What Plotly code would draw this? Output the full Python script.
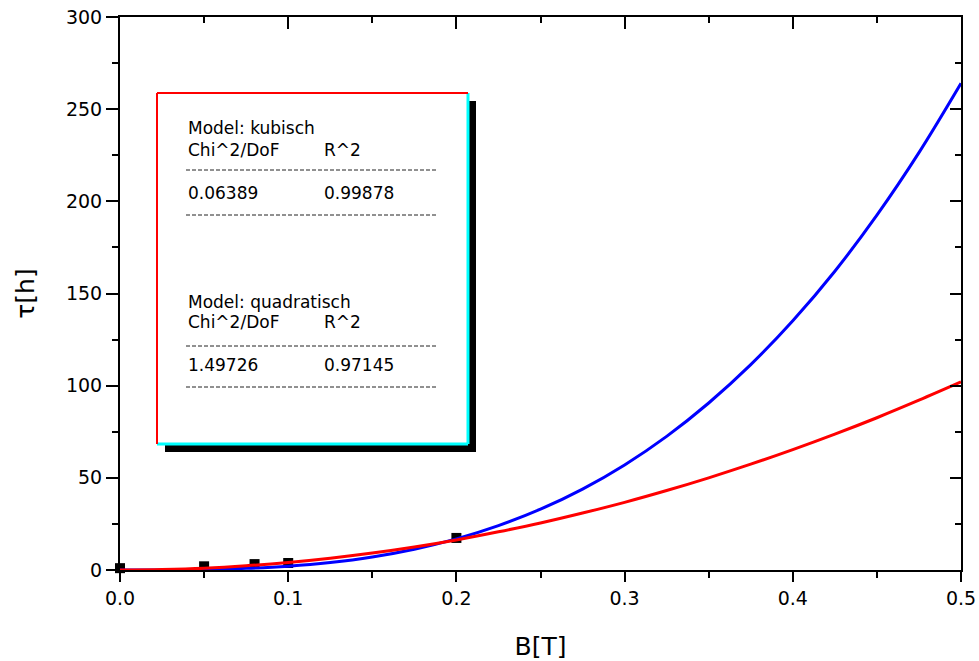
import plotly.graph_objects as go

# ---- data ----
meas_B = [0.0, 0.05, 0.08, 0.10, 0.20]
meas_tau = [1.0, 2.0, 3.2, 3.8, 17.4]

fit_B = [0.0, 0.025, 0.05, 0.075, 0.1, 0.125, 0.15, 0.175, 0.2, 0.225, 0.25,
         0.275, 0.3, 0.325, 0.35, 0.375, 0.4, 0.425, 0.45, 0.475, 0.5]
cubic_tau = [0.0, 0.0, 0.3, 0.9, 2.1, 4.1, 7.1, 11.3, 16.9, 24.1, 33.0,
             43.9, 57.0, 72.5, 90.6, 111.4, 135.2, 162.1, 192.5, 226.4, 264.0]
quad_tau = [0.0, 0.3, 1.0, 2.3, 4.1, 6.4, 9.2, 12.5, 16.3, 20.7, 25.5,
            30.9, 36.7, 43.1, 50.0, 57.4, 65.3, 73.7, 82.6, 92.1, 102.0]

x_ticks = [0.0, 0.1, 0.2, 0.3, 0.4, 0.5]
x_ticklabels = ["0.0", "0.1", "0.2", "0.3", "0.4", "0.5"]
y_ticks = [0, 50, 100, 150, 200, 250, 300]

box_lines = [
    ("Model: kubisch", ""),
    ("Chi^2/DoF", "R^2"),
    ("0.06389", "0.99878"),
    ("Model: quadratisch", ""),
    ("Chi^2/DoF", "R^2"),
    ("1.49726", "0.97145"),
]

FONT = "DejaVu Sans, Verdana, sans-serif"

fig = go.Figure()
fig.add_trace(go.Scatter(x=meas_B, y=meas_tau, mode="markers",
                         marker=dict(symbol="square", size=10, color="black"),
                         showlegend=False, cliponaxis=False))
fig.add_trace(go.Scatter(x=fit_B, y=cubic_tau, mode="lines", line_shape="spline",
                         line=dict(color="#0000ff", width=3), showlegend=False))
fig.add_trace(go.Scatter(x=fit_B, y=quad_tau, mode="lines", line_shape="spline",
                         line=dict(color="#ff0000", width=3), showlegend=False))
# empty trace to anchor mirrored axes (top / right, inward ticks)
fig.add_trace(go.Scatter(x=[None], y=[None], xaxis="x2", yaxis="y2",
                         showlegend=False, hoverinfo="skip"))

axis_common = dict(showgrid=False, zeroline=False, showline=True, automargin=False,
                   linecolor="black", linewidth=2, tickcolor="black", tickwidth=2)

fig.update_layout(
    width=979, height=661,
    margin=dict(l=120, r=18, t=17, b=91),
    paper_bgcolor="white", plot_bgcolor="white",
    font=dict(family=FONT, color="black"),
    xaxis=dict(range=[0, 0.5], tickvals=x_ticks, ticktext=x_ticklabels,
               ticks="outside", ticklen=10,
               minor=dict(dtick=0.05, ticks="outside", ticklen=6,
                          tickcolor="black", tickwidth=2),
               tickfont=dict(size=19, family=FONT),
               title=dict(text="B[T]", font=dict(size=25, family=FONT), standoff=30),
               **axis_common),
    yaxis=dict(range=[0, 300], tickvals=y_ticks,
               ticks="outside", ticklen=12,
               minor=dict(dtick=25, ticks="outside", ticklen=6,
                          tickcolor="black", tickwidth=2),
               tickfont=dict(size=19, family=FONT),
               title=dict(text="τ[h]", font=dict(size=25, family=FONT), standoff=24),
               **axis_common),
    xaxis2=dict(range=[0, 0.5], overlaying="x", side="top", anchor="y2",
                tickvals=x_ticks, showticklabels=False, ticks="inside", ticklen=12,
                minor=dict(dtick=0.05, ticks="inside", ticklen=6,
                           tickcolor="black", tickwidth=2),
                **axis_common),
    yaxis2=dict(range=[0, 300], overlaying="y", side="right", anchor="x2",
                tickvals=y_ticks, showticklabels=False, ticks="inside", ticklen=11,
                minor=dict(dtick=25, ticks="inside", ticklen=6,
                           tickcolor="black", tickwidth=2),
                **axis_common),
)

# ---- fit-result text box ----
W, H = 841.0, 553.0
def px(xp):
    return (xp - 120) / W
def py(yp):
    return (570 - yp) / H

bx0, by0, bx1, by1 = 157, 93, 468, 444
shapes = []
# shadow
shapes.append(dict(type="rect", xref="paper", yref="paper",
                   x0=px(bx0 + 8), x1=px(bx1 + 8), y0=py(by1 + 8), y1=py(by0 + 8),
                   fillcolor="black", line=dict(width=0), layer="above"))
# box
shapes.append(dict(type="rect", xref="paper", yref="paper",
                   x0=px(bx0), x1=px(bx1), y0=py(by1), y1=py(by0),
                   fillcolor="white", line=dict(width=0), layer="above"))
# borders
shapes.append(dict(type="line", xref="paper", yref="paper", x0=px(bx1), x1=px(bx1),
                   y0=py(by1), y1=py(by0), line=dict(color="#00ffff", width=3), layer="above"))
shapes.append(dict(type="line", xref="paper", yref="paper", x0=px(bx0), x1=px(bx1),
                   y0=py(by1), y1=py(by1), line=dict(color="#00ffff", width=3), layer="above"))
shapes.append(dict(type="line", xref="paper", yref="paper", x0=px(bx0), x1=px(bx0),
                   y0=py(by1), y1=py(by0), line=dict(color="#ff0000", width=2), layer="above"))
shapes.append(dict(type="line", xref="paper", yref="paper", x0=px(bx0), x1=px(bx1),
                   y0=py(by0), y1=py(by0), line=dict(color="#ff0000", width=2), layer="above"))
# dashed separators
for yd in [170, 215, 346, 387]:
    shapes.append(dict(type="line", xref="paper", yref="paper", x0=px(186), x1=px(437),
                       y0=py(yd), y1=py(yd),
                       line=dict(color="#222222", width=1, dash="4px,2px"), layer="above"))
fig.update_layout(shapes=shapes)

text_y = [128, 150, 193, 302, 322, 365]
annotations = []
for (c1, c2), yt in zip(box_lines, text_y):
    annotations.append(dict(text=c1, x=px(186), y=py(yt), xref="paper", yref="paper",
                            xanchor="left", yanchor="middle", showarrow=False,
                            font=dict(size=17, family=FONT, color="black")))
    if c2:
        annotations.append(dict(text=c2, x=px(322), y=py(yt), xref="paper", yref="paper",
                                xanchor="left", yanchor="middle", showarrow=False,
                                font=dict(size=17, family=FONT, color="black")))
fig.update_layout(annotations=annotations)

fig.write_html("out.html", config={"displayModeBar": False},
               post_script="document.body.style.margin='0px';document.body.style.overflow='hidden';")
